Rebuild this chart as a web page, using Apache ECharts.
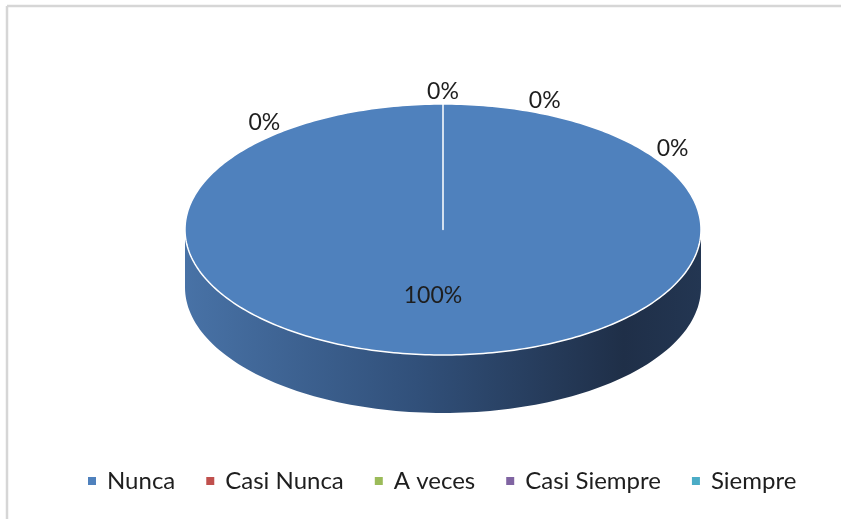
<!DOCTYPE html>
<html>
<head>
<meta charset="utf-8">
<script src="https://cdn.jsdelivr.net/npm/echarts@6/dist/echarts.min.js"></script>
<style>
  html, body { margin: 0; padding: 0; background: #ffffff; overflow: hidden; }
  #chart { width: 841px; height: 519px; }
</style>
</head>
<body>
<div id="chart"></div>
<script>
// ---- data ----
const categories = ['Nunca', 'Casi Nunca', 'A veces', 'Casi Siempre', 'Siempre'];
const values = [100, 0, 0, 0, 0];
const colors = ['#4F81BD', '#C0504D', '#9BBB59', '#8064A2', '#4BACC6'];

// ---- derived ----
const total = values.reduce((a, b) => a + b, 0);
const starts = [];
(function () { let acc = 0; values.forEach(v => { starts.push(acc); acc += v; }); })();
const zeroIndex = [];
(function () { let z = 0; values.forEach(v => { zeroIndex.push(v === 0 ? z++ : -1); }); })();

// layout constants (not data)
const DEPTH = 0.462;                        // thickness of the 3D pie in y-axis units
const ZERO_LABEL_ANGLES = [-39, 0, 21, 54]; // spread-out positions for 0% labels (deg, clockwise from top)
const LABEL_FONT = '23px Lato';

function pt(api, theta, r, dy) {
  return api.coord([r * Math.sin(theta), r * Math.cos(theta) - (dy || 0)]);
}

function makeRender(i) {
  return function (params, api) {
    const v = api.value(2);
    const children = [];
    const a0 = starts[i] / total * 2 * Math.PI;
    const a1 = (starts[i] + v) / total * 2 * Math.PI;
    const color = api.visual('color');
    if (v > 0) {
      // front side wall
      const s = Math.max(a0, Math.PI / 2), e = Math.min(a1, 3 * Math.PI / 2);
      if (e > s) {
        const N = 120, side = [];
        for (let k = 0; k <= N; k++) side.push(pt(api, s + (e - s) * k / N, 1, 0));
        for (let k = N; k >= 0; k--) side.push(pt(api, s + (e - s) * k / N, 1, DEPTH));
        children.push({
          type: 'polygon',
          shape: { points: side },
          style: {
            fill: new echarts.graphic.LinearGradient(0, 0, 1, 0, [
              { offset: 0, color: '#4872a6' },
              { offset: 0.45, color: '#31507a' },
              { offset: 0.85, color: '#1f2f48' },
              { offset: 1, color: '#233652' }
            ])
          }
        });
      }
      // top face
      const M = Math.max(4, Math.ceil((a1 - a0) / (2 * Math.PI) * 360));
      const top = [api.coord([0, 0])];
      for (let k = 0; k <= M; k++) top.push(pt(api, a0 + (a1 - a0) * k / M, 1, 0));
      children.push({
        type: 'polygon',
        shape: { points: top },
        style: { fill: color, stroke: '#ffffff', lineWidth: 1.5, lineJoin: 'round' }
      });
    }
    // label
    const pct = Math.round(v / total * 100) + '%';
    let p;
    if (v > 0) {
      p = pt(api, (a0 + a1) / 2, 0.53, 0);
      p[0] -= 10;
    } else {
      const ang = ZERO_LABEL_ANGLES[zeroIndex[i] % ZERO_LABEL_ANGLES.length] * Math.PI / 180;
      p = pt(api, ang, 1.1, 0);
    }
    children.push({
      type: 'text',
      x: p[0], y: p[1],
      style: { text: pct, fill: '#1e1e1e', font: LABEL_FONT, align: 'center', verticalAlign: 'middle' }
    });
    return { type: 'group', children: children };
  };
}

const chart = echarts.init(document.getElementById('chart'), null, { renderer: 'canvas' });
chart.setOption({
  animation: false,
  backgroundColor: '#ffffff',
  color: colors,
  graphic: [
    { type: 'line', shape: { x1: 7, y1: 6, x2: 841, y2: 6 }, style: { stroke: '#d6d6d6', lineWidth: 2.5 }, z: -10 },
    { type: 'line', shape: { x1: 7, y1: 6, x2: 7, y2: 519 }, style: { stroke: '#d6d6d6', lineWidth: 2.5 }, z: -10 }
  ],
  grid: { left: 185, width: 516, top: 104, height: 309 },
  xAxis: { type: 'value', min: -1, max: 1, show: false },
  yAxis: { type: 'value', min: -1 - DEPTH, max: 1, show: false },
  legend: {
    data: categories,
    left: 83,
    top: 464,
    icon: 'rect',
    itemWidth: 8,
    itemHeight: 8,
    itemGap: 31,
    textStyle: { fontFamily: 'Lato', fontSize: 24, color: '#1e1e1e', padding: [0, 0, 0, 6] }
  },
  series: categories.map((name, i) => ({
    type: 'custom',
    name: name,
    coordinateSystem: 'cartesian2d',
    clip: false,
    data: [[0, 0, values[i]]],
    encode: { x: 0, y: 1 },
    renderItem: makeRender(i)
  }))
});
</script>
</body>
</html>
